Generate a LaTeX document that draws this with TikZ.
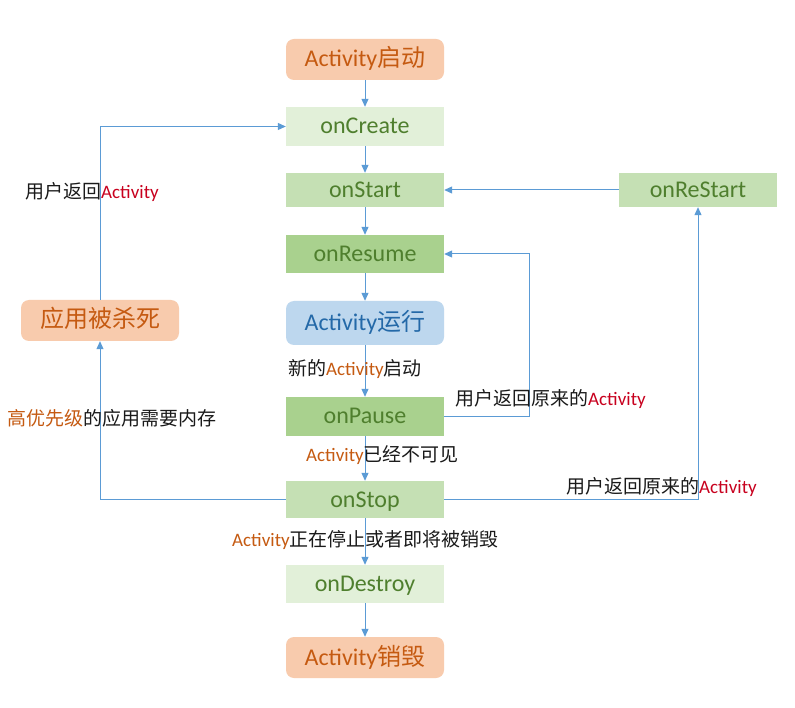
\documentclass[tikz,border=0pt]{standalone}
\usepackage{fontspec}
\setmainfont{Carlito}
\newfontfamily\cjk{Noto Sans CJK SC}
\usetikzlibrary{arrows.meta}
\definecolor{salmon}{HTML}{F8CBAD}
\definecolor{orangetxt}{HTML}{C55A11}
\definecolor{g1}{HTML}{E2F0D9}
\definecolor{g2}{HTML}{C5E0B4}
\definecolor{g3}{HTML}{A9D18E}
\definecolor{greentxt}{HTML}{4F7F2E}
\definecolor{bluefill}{HTML}{BDD7EE}
\definecolor{bluetxt}{HTML}{2469A8}
\definecolor{arrowblue}{HTML}{5B9BD5}
\definecolor{redtxt}{HTML}{C8001E}
\definecolor{lbltxt}{HTML}{1A1A1A}
\begin{document}
\begin{tikzpicture}[x=1pt,y=-1pt,
  box/.style={minimum width=158pt, inner sep=0pt, text height=19pt, text depth=4pt, font=\fontsize{24}{28}\selectfont, text=greentxt},
  rbox/.style={box, rounded corners=8pt},
  lbl/.style={anchor=west, inner sep=0pt, font=\fontsize{19}{23}\selectfont, text=lbltxt},
  arr/.style={draw=arrowblue, line width=1pt, -{Triangle[length=8pt,width=7pt]}}]
\useasboundingbox (0,0) rectangle (795,708);
\fill[white] (0,0) rectangle (795,708);

\node[rbox, fill=salmon, text=orangetxt, minimum height=41pt] (launch) at (365,59.5) {Activity{\cjk 启动}};
\node[box, fill=g1, minimum height=39pt] (create) at (365,126.5) {onCreate};
\node[box, fill=g2, minimum height=34pt] (onstart) at (365,190) {onStart};
\node[box, fill=g3, minimum height=38pt] (resume) at (365,254) {onResume};
\node[rbox, fill=bluefill, text=bluetxt, minimum height=44pt] (run) at (365,323) {Activity{\cjk 运行}};
\node[box, fill=g3, minimum height=39pt] (pause) at (365,416.5) {onPause};
\node[box, fill=g2, minimum height=37pt] (stop) at (365,499.5) {onStop};
\node[box, fill=g1, minimum height=38pt] (destroy) at (365,584) {onDestroy};
\node[rbox, fill=salmon, text=orangetxt, minimum height=41pt] (gone) at (365,657.5) {Activity{\cjk 销毁}};
\node[box, fill=g2, minimum height=34pt] (restart) at (698,190) {onReStart};
\node[rbox, fill=salmon, text=orangetxt, minimum height=41pt] (kill) at (100,320.5) {\cjk 应用被杀死};

\draw[arr] (launch) -- (create);
\draw[arr] (create) -- (onstart);
\draw[arr] (onstart) -- (resume);
\draw[arr] (resume) -- (run);
\draw[arr] (run) -- (pause);
\draw[arr] (pause) -- (stop);
\draw[arr] (stop) -- (destroy);
\draw[arr] (destroy) -- (gone);
\draw[arr] (pause.east) -- ++(85,0) |- (resume.east);
\draw[arr] (stop.east) -| (restart.south);
\draw[arr] (restart.west) -- (onstart.east);
\draw[arr] (stop.west) -| (kill.south);
\draw[arr] (kill.north) |- (create.west);

\node[lbl] (l1) at (25,192) {{\cjk 用户返回}\textcolor{redtxt}{Activity}};
\node[lbl] (l2) at (7,418) {{\cjk\textcolor{orangetxt}{高优先级}的应用需要内存}};
\node[lbl] (l3) at (288,369) {{\cjk 新的}\textcolor{orangetxt}{Activity}{\cjk 启动}};
\node[lbl] (l4) at (455,399) {{\cjk 用户返回原来的}\textcolor{redtxt}{Activity}};
\node[lbl] (l5) at (306,455) {\textcolor{orangetxt}{Activity}{\cjk 已经不可见}};
\node[lbl] (l6) at (566,487) {{\cjk 用户返回原来的}\textcolor{redtxt}{Activity}};
\node[lbl] (l7) at (232,540) {\textcolor{orangetxt}{Activity}{\cjk 正在停止或者即将被销毁}};
\end{tikzpicture}
\end{document}
